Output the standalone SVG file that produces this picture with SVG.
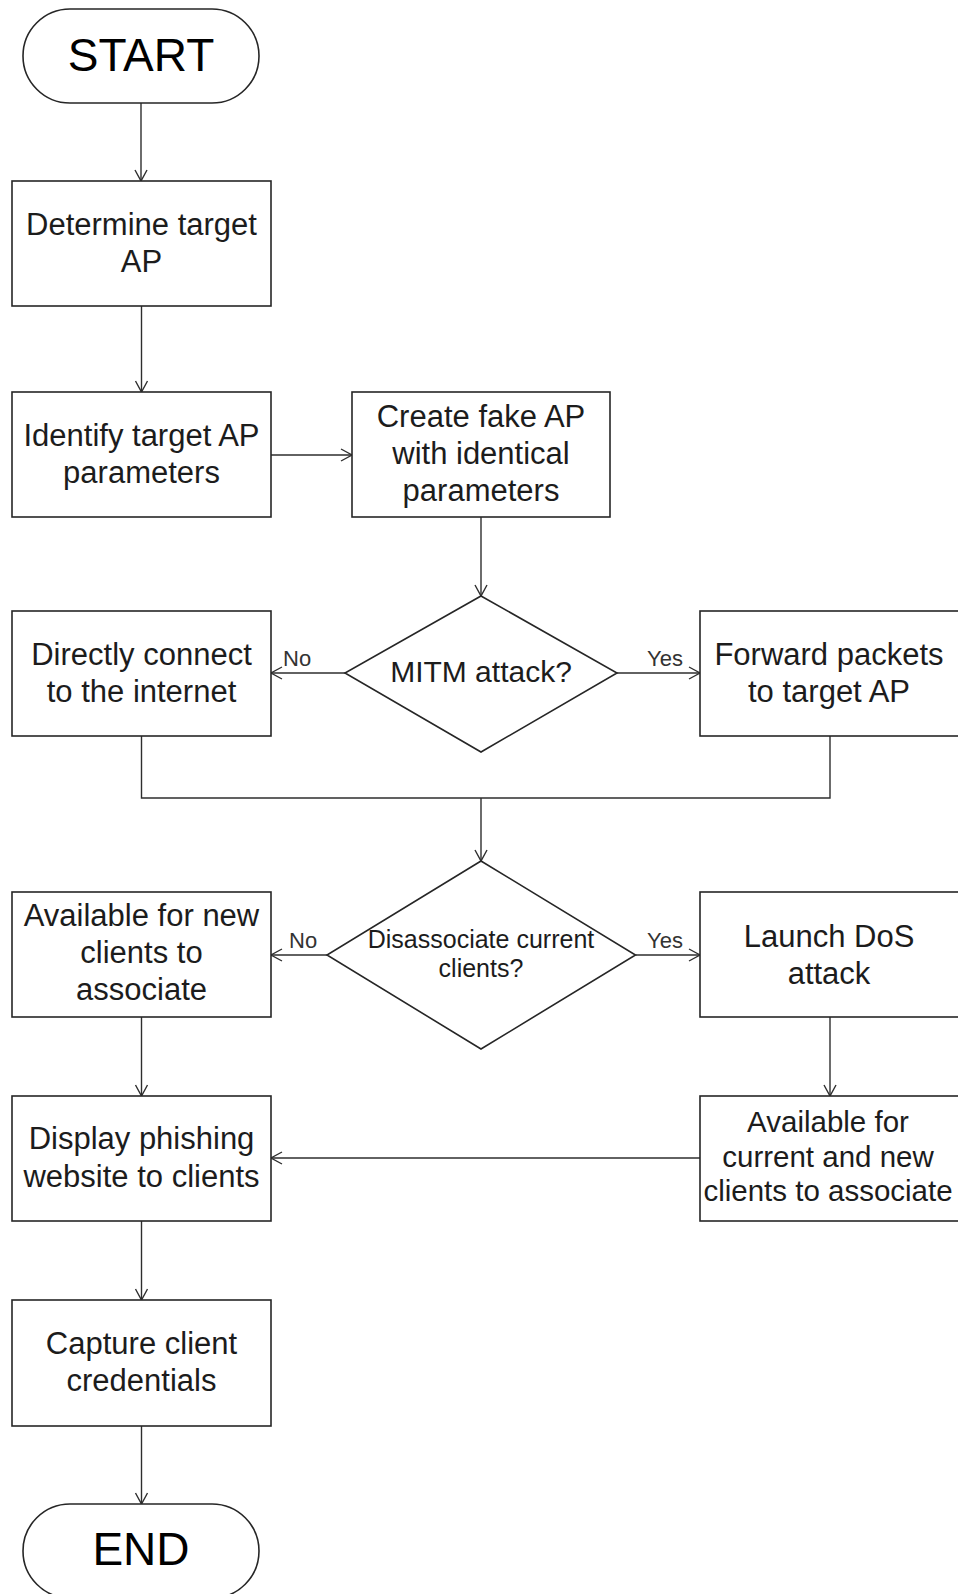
<svg xmlns="http://www.w3.org/2000/svg" width="958" height="1594" viewBox="0 0 958 1594">
  <style>
    .shape { fill: #ffffff; stroke: #262626; stroke-width: 1.6; }
    .edge { fill: none; stroke: #2e2e2e; stroke-width: 1.4; }
    .arrow { marker-end: url(#open); }
    .t { font-family: "Liberation Sans", Arial, sans-serif; fill: #1c1c1c; text-anchor: middle; }
    .big { font-size: 46px; fill: #000000; }
    .main { font-size: 31px; }
    .lbl { font-family: "Liberation Sans", Arial, sans-serif; font-size: 22px; fill: #333333; }
  </style>
  <defs>
    <marker id="open" markerUnits="userSpaceOnUse" markerWidth="14" markerHeight="14" refX="11" refY="6" orient="auto" overflow="visible">
      <path d="M0,0 L11,6 L0,12" fill="none" stroke="#2e2e2e" stroke-width="1.4"/>
    </marker>
  </defs>
  <rect width="958" height="1594" fill="#ffffff"/>

  <!-- connectors -->
  <g id="connectors">
    <line class="edge arrow" x1="141" y1="103" x2="141" y2="181"/>
    <line class="edge arrow" x1="141.5" y1="306" x2="141.5" y2="392"/>
    <line class="edge arrow" x1="271" y1="455" x2="352" y2="455"/>
    <line class="edge arrow" x1="481" y1="517" x2="481" y2="596"/>
    <line class="edge arrow" x1="345" y1="673" x2="271" y2="673"/>
    <line class="edge arrow" x1="617" y1="673" x2="700" y2="673"/>
    <polyline class="edge" points="141.5,736 141.5,798 830,798 830,736"/>
    <line class="edge arrow" x1="481" y1="798" x2="481" y2="861"/>
    <line class="edge arrow" x1="327" y1="955" x2="271" y2="955"/>
    <line class="edge arrow" x1="635.5" y1="955" x2="700" y2="955"/>
    <line class="edge arrow" x1="141.5" y1="1017" x2="141.5" y2="1096"/>
    <line class="edge arrow" x1="830" y1="1017" x2="830" y2="1096"/>
    <line class="edge arrow" x1="700" y1="1158" x2="271" y2="1158"/>
    <line class="edge arrow" x1="141.5" y1="1221" x2="141.5" y2="1300"/>
    <line class="edge arrow" x1="141.5" y1="1426" x2="141.5" y2="1504"/>
    <text class="lbl" x="283" y="666">No</text>
    <text class="lbl" x="647" y="666">Yes</text>
    <text class="lbl" x="289" y="948">No</text>
    <text class="lbl" x="647" y="948">Yes</text>
  </g>

  <!-- nodes -->
  <g id="start">
    <rect class="shape" x="23" y="9" width="236" height="94" rx="47" ry="47"/>
    <text class="t big" x="141" y="71">START</text>
  </g>
  <g id="determine-target">
    <rect class="shape" x="12" y="181" width="259" height="125"/>
    <text class="t main" x="141.5" y="235">Determine target</text>
    <text class="t main" x="141.5" y="272">AP</text>
  </g>
  <g id="identify-params">
    <rect class="shape" x="12" y="392" width="259" height="125"/>
    <text class="t main" x="141.5" y="446">Identify target AP</text>
    <text class="t main" x="141.5" y="483">parameters</text>
  </g>
  <g id="create-fake-ap">
    <rect class="shape" x="352" y="392" width="258" height="125"/>
    <text class="t main" x="481" y="427">Create fake AP</text>
    <text class="t main" x="481" y="464">with identical</text>
    <text class="t main" x="481" y="501">parameters</text>
  </g>
  <g id="mitm-decision">
    <polygon class="shape" points="481,596 617,673 481,752 345,673"/>
    <text class="t" x="481" y="682" font-size="30">MITM attack?</text>
  </g>
  <g id="direct-connect">
    <rect class="shape" x="12" y="611" width="259" height="125"/>
    <text class="t main" x="141.5" y="665">Directly connect</text>
    <text class="t main" x="141.5" y="702">to the internet</text>
  </g>
  <g id="forward-packets">
    <rect class="shape" x="700" y="611" width="260" height="125"/>
    <text class="t main" x="829" y="665">Forward packets</text>
    <text class="t main" x="829" y="702">to target AP</text>
  </g>
  <g id="disassociate-decision">
    <polygon class="shape" points="481,861 635.5,955 481,1049 327,955"/>
    <text class="t" x="481" y="948" font-size="25">Disassociate current</text>
    <text class="t" x="481" y="977" font-size="25">clients?</text>
  </g>
  <g id="available-new">
    <rect class="shape" x="12" y="892" width="259" height="125"/>
    <text class="t main" x="141.5" y="926">Available for new</text>
    <text class="t main" x="141.5" y="963">clients to</text>
    <text class="t main" x="141.5" y="1000">associate</text>
  </g>
  <g id="launch-dos">
    <rect class="shape" x="700" y="892" width="260" height="125"/>
    <text class="t main" x="829" y="947">Launch DoS</text>
    <text class="t main" x="829" y="984">attack</text>
  </g>
  <g id="display-phishing">
    <rect class="shape" x="12" y="1096" width="259" height="125"/>
    <text class="t main" x="141.5" y="1149">Display phishing</text>
    <text class="t main" x="141.5" y="1187">website to clients</text>
  </g>
  <g id="available-current-new">
    <rect class="shape" x="700" y="1096" width="260" height="125"/>
    <text class="t" x="828" y="1132" font-size="29.5">Available for</text>
    <text class="t" x="828" y="1167" font-size="29.5">current and new</text>
    <text class="t" x="828" y="1201" font-size="29.5">clients to associate</text>
  </g>
  <g id="capture-credentials">
    <rect class="shape" x="12" y="1300" width="259" height="126"/>
    <text class="t main" x="141.5" y="1354">Capture client</text>
    <text class="t main" x="141.5" y="1391">credentials</text>
  </g>
  <g id="end">
    <rect class="shape" x="23" y="1504" width="236" height="94" rx="47" ry="47"/>
    <text class="t big" x="141" y="1565">END</text>
  </g>
</svg>
